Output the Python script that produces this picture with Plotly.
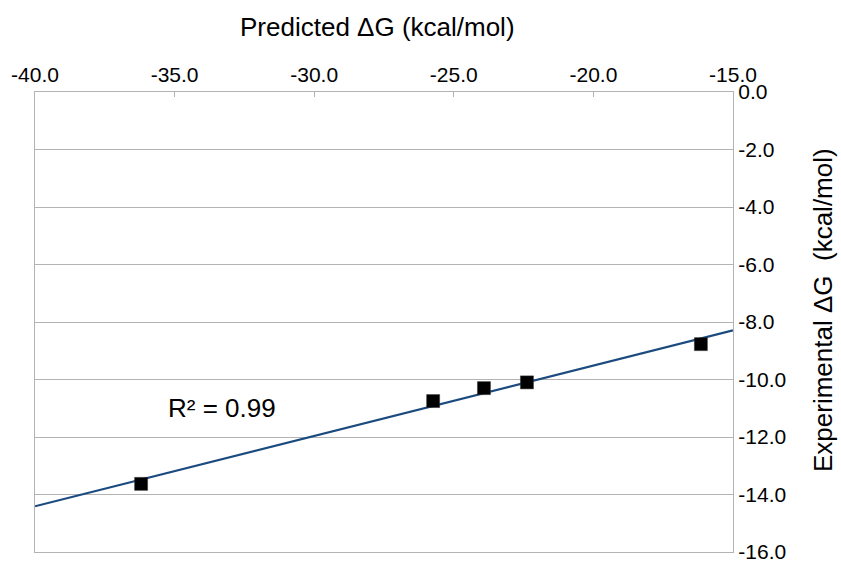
import numpy as np
import plotly.graph_objects as go

# Predicted vs experimental binding free energies (kcal/mol)
predicted = [-36.2, -25.74, -23.92, -22.38, -16.15]
experimental = [-13.63, -10.75, -10.30, -10.10, -8.77]

x_ticks = [-40, -35, -30, -25, -20, -15]
x_ticklabels = ["-40.0", "-35.0", "-30.0", "-25.0", "-20.0", "-15.0"]
y_ticks = [0, -2, -4, -6, -8, -10, -12, -14, -16]
y_ticklabels = ["0.0", "-2.0", "-4.0", "-6.0", "-8.0", "-10.0", "-12.0", "-14.0", "-16.0"]

x_title = "Predicted ΔG (kcal/mol)"
y_title = "Experimental ΔG  (kcal/mol)"
r2_label = "R² = 0.99"

# Linear least-squares trend line across the full x range
slope, intercept = np.polyfit(predicted, experimental, 1)
x_fit = np.array([-40.0, -15.0])
y_fit = slope * x_fit + intercept

axis_grey = "#b3b3b3"
font_family = "Liberation Sans, Arial, sans-serif"

fig = go.Figure()
fig.add_trace(go.Scatter(
    x=x_fit, y=y_fit, mode="lines",
    line=dict(color="#1b4a7f", width=2.2),
    showlegend=False, hoverinfo="skip",
))
fig.add_trace(go.Scatter(
    x=predicted, y=experimental, mode="markers",
    marker=dict(symbol="square", size=13, color="#000000",
                line=dict(color="#333333", width=0.5)),
    showlegend=False,
))

fig.add_annotation(
    x=-33.3, y=-11.0, xref="x", yref="y", text=r2_label, showarrow=False,
    font=dict(family=font_family, size=26, color="#000000"),
)
# Axis titles
fig.add_annotation(
    x=377, y=27, xref="paper", yref="paper", text=x_title, showarrow=False,
    font=dict(family=font_family, size=26, color="#000000"),
)
fig.add_annotation(
    x=823, y=310, xref="paper", yref="paper", text=y_title, showarrow=False,
    textangle=-90, font=dict(family=font_family, size=26, color="#000000"),
)

# Convert the pixel-based title positions into paper coordinates
W, H = 841, 564
L, R, T, B = 35, 108, 92, 12
pw, ph = W - L - R, H - T - B
for ann in fig.layout.annotations:
    if ann.xref == "paper":
        px, py = ann.x, ann.y
        ann.x = (px - L) / pw
        ann.y = (H - B - py) / ph
        ann.xanchor = "center"
        ann.yanchor = "middle"

fig.update_layout(
    width=W, height=H,
    margin=dict(l=L, r=R, t=T, b=B),
    paper_bgcolor="white", plot_bgcolor="white",
    font=dict(family=font_family, color="#000000"),
    xaxis=dict(
        side="top", range=[-40, -15],
        tickvals=x_ticks, ticktext=x_ticklabels,
        tickfont=dict(size=21),
        ticks="inside", ticklen=5, tickcolor=axis_grey,
        showgrid=False, zeroline=False, automargin=False,
        showline=True, linecolor=axis_grey, linewidth=1.3, mirror=True,
    ),
    yaxis=dict(
        side="right", range=[-16, 0],
        tickvals=y_ticks, ticktext=y_ticklabels,
        tickfont=dict(size=21),
        ticks="inside", ticklen=5, tickcolor=axis_grey,
        showgrid=True, gridcolor=axis_grey, gridwidth=1,
        zeroline=False, automargin=False,
        showline=True, linecolor=axis_grey, linewidth=1.3, mirror=True,
    ),
)

fig.write_html("out.html")
